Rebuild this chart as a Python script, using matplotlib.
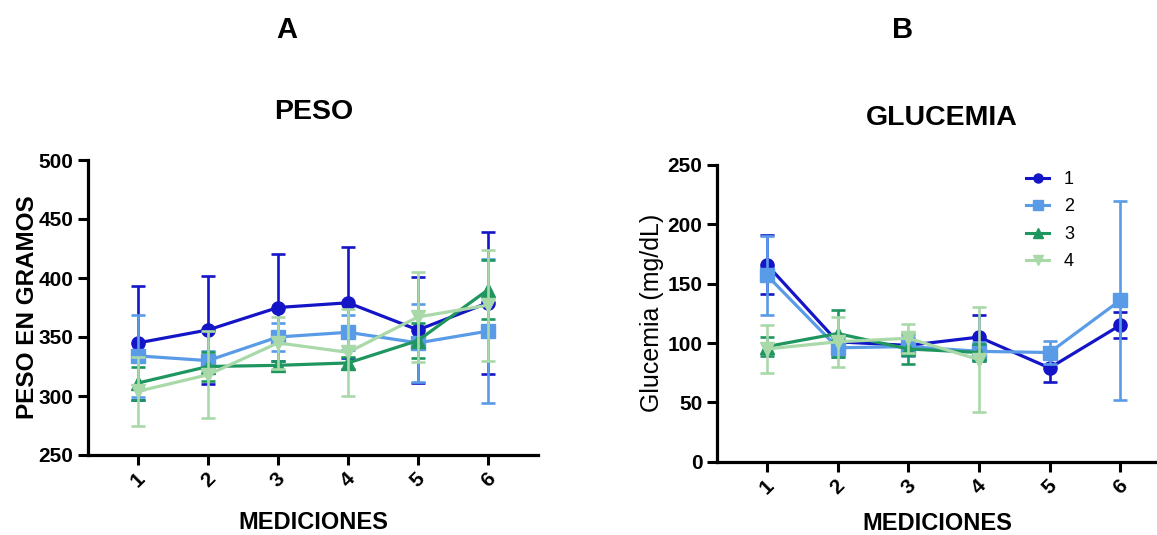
import matplotlib
matplotlib.use("Agg")
import matplotlib.pyplot as plt
from matplotlib.lines import Line2D

plt.rcParams['font.family'] = ['Liberation Sans', 'DejaVu Sans']

# ---- data ----
mediciones = [1, 2, 3, 4, 5, 6]
tick_labels = ["1", "2", "3", "4", "5", "6"]
groups = ["1", "2", "3", "4"]

peso_s1 = [345, 356, 375, 379, 356, 379]
peso_s1_sd = [48, 46, 45, 47, 45, 60]
peso_s2 = [334, 330, 350, 354, 345, 355]
peso_s2_sd = [35, 8, 12, 15, 33, 61]
peso_s3 = [311, 325, 326, 328, 347, 390]
peso_s3_sd = [14, 12, 4, 5, 15, 25]
peso_s4 = [304, 318, 345, 337, 367, 377]
peso_s4_sd = [29, 37, 22, 37, 38, 47]

glu_x34 = [1, 2, 3, 4]
glu_s1 = [166, 101, 98, 105, 79, 115]
glu_s1_sd = [25, 5, 5, 19, 12, 11]
glu_s2 = [157, 96, 97, 93, 92, 136]
glu_s2_sd = [33, 8, 8, 8, 10, 84]
glu_s3 = [97, 108, 95, 92]
glu_s3_sd = [8, 20, 13, 7]
glu_s4 = [95, 101, 104, 86]
glu_s4_sd = [20, 21, 12, 44]

colors = ["#1515c8", "#5a9be8", "#1f9660", "#a9d9a9"]
markers = ["o", "s", "^", "v"]

fig = plt.figure(figsize=(11.57, 5.35), dpi=100)

axA = fig.add_axes([88/1157, 1-455/535, (538-88)/1157, (455-160)/535])
axB = fig.add_axes([717/1157, 1-461.7/535, (1157-717)/1157, (461.7-165)/535])


def draw(ax, xs_list, ys_list, sd_list):
    for i, (xs, ys, sd) in enumerate(zip(xs_list, ys_list, sd_list)):
        ax.errorbar(xs, ys, yerr=sd, color=colors[i], marker=markers[i],
                    markersize=9.5, linewidth=2.3, elinewidth=1.9,
                    capsize=5, capthick=1.9, label=groups[i], zorder=3 + i)


def style(ax, pad):
    for s in ["top", "right"]:
        ax.spines[s].set_visible(False)
    for s in ["left", "bottom"]:
        ax.spines[s].set_linewidth(2.3)
    ax.tick_params(axis="both", width=2.2, length=7, labelsize=15)
    ax.set_xticks(mediciones)
    ax.set_xticklabels(tick_labels, rotation=45, ha="center", va="top", fontweight="bold")
    for lab in ax.get_yticklabels():
        lab.set_fontweight("bold")
    ax.set_xlabel("MEDICIONES", fontsize=17, fontweight="bold", labelpad=pad)


draw(axA, [mediciones] * 4, [peso_s1, peso_s2, peso_s3, peso_s4],
     [peso_s1_sd, peso_s2_sd, peso_s3_sd, peso_s4_sd])
axA.set_xlim(0.286, 6.714)
axA.set_ylim(250, 500)
axA.set_yticks([250, 300, 350, 400, 450, 500])
style(axA, 14)
axA.set_ylabel("PESO EN GRAMOS", fontsize=17.5, fontweight="bold", labelpad=-0.5)

draw(axB, [mediciones, mediciones, glu_x34, glu_x34], [glu_s1, glu_s2, glu_s3, glu_s4],
     [glu_s1_sd, glu_s2_sd, glu_s3_sd, glu_s4_sd])
axB.set_xlim(0.293, 6.52)
axB.set_ylim(0, 250)
axB.set_yticks([0, 50, 100, 150, 200, 250])
style(axB, 10)
axB.set_ylabel("Glucemia (mg/dL)", fontsize=18, labelpad=2.5)

handles = [Line2D([], [], color=colors[i], marker=markers[i], markersize=6.5, linewidth=2.2)
           for i in range(4)]
fig.legend(handles, groups, loc="upper left", bbox_to_anchor=(1026/1157, 1-171/535),
           frameon=False, fontsize=13, handlelength=1.3, labelspacing=0.58,
           borderpad=0, borderaxespad=0, handletextpad=0.8)

fig.text(287/1157, 1-30/535, "A", fontsize=21, fontweight="bold", ha="center", va="center")
fig.text(903/1157, 1-30/535, "B", fontsize=21, fontweight="bold", ha="center", va="center")
fig.text(314/1157, 1-112/535, "PESO", fontsize=20.5, fontweight="bold", ha="center", va="center")
fig.text(942/1157, 1-118/535, "GLUCEMIA", fontsize=20.5, fontweight="bold", ha="center", va="center")

fig.savefig("out.png", dpi=100)
